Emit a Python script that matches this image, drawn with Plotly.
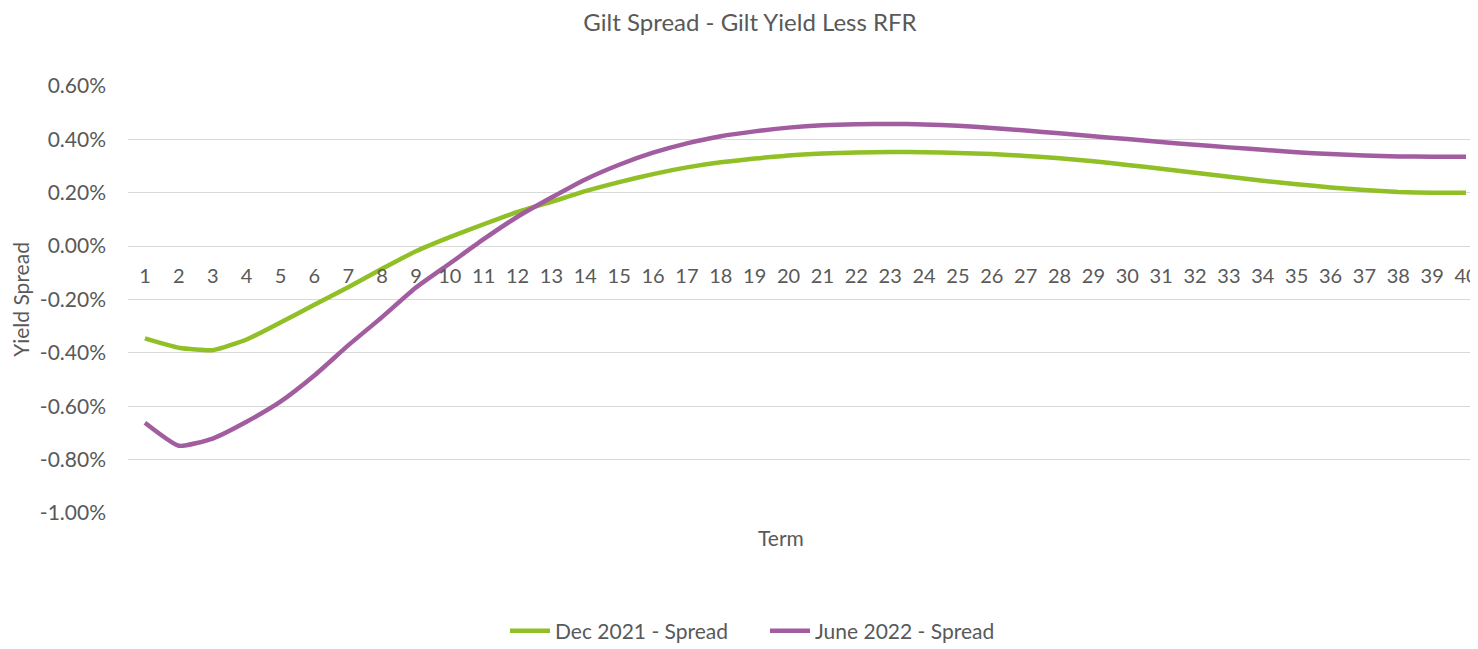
import plotly.graph_objects as go

terms = list(range(1, 41))
dec_2021 = [-0.346, -0.381, -0.390, -0.350, -0.286, -0.220, -0.154, -0.085, -0.019, 0.034,
            0.082, 0.128, 0.166, 0.206, 0.240, 0.270, 0.295, 0.314, 0.328, 0.340,
            0.347, 0.351, 0.353, 0.352, 0.349, 0.345, 0.338, 0.329, 0.318, 0.304,
            0.290, 0.275, 0.260, 0.245, 0.232, 0.220, 0.210, 0.203, 0.200, 0.200]
jun_2022 = [-0.662, -0.748, -0.721, -0.658, -0.583, -0.485, -0.372, -0.266, -0.155, -0.065,
            0.026, 0.110, 0.182, 0.250, 0.305, 0.350, 0.385, 0.412, 0.430, 0.444,
            0.453, 0.457, 0.458, 0.456, 0.451, 0.443, 0.433, 0.423, 0.412, 0.401,
            0.390, 0.380, 0.370, 0.361, 0.352, 0.345, 0.340, 0.336, 0.335, 0.335]
y_ticks = [0.6, 0.4, 0.2, 0.0, -0.2, -0.4, -0.6, -0.8, -1.0]

FONT = "Lato"
TXT = "#595959"
# the page places the figure 8px from the top-left corner
W, H = 1470, 641

fig = go.Figure()
fig.add_trace(go.Scatter(x=terms, y=dec_2021, mode="lines", name="Dec 2021 - Spread",
                         line=dict(color="#90BF26", width=4.5, shape="spline", smoothing=0.5)))
fig.add_trace(go.Scatter(x=terms, y=jun_2022, mode="lines", name="June 2022 - Spread",
                         line=dict(color="#A15DA0", width=4.5, shape="spline", smoothing=0.5)))

fig.update_layout(
    width=W, height=H,
    margin=dict(l=120, r=0, t=78, b=136, autoexpand=False),
    paper_bgcolor="white", plot_bgcolor="white",
    font=dict(family=FONT, color=TXT, size=21),
    title=dict(text="Gilt Spread - Gilt Yield Less RFR", x=742 / W, xanchor="center",
               y=1 - 15 / H, yanchor="middle", font=dict(size=24, color=TXT, family=FONT)),
    xaxis=dict(range=[0.5, 40.354], tickmode="array", tickvals=terms,
               ticktext=[str(t) for t in terms], showgrid=False, zeroline=False,
               showline=False, ticks="", anchor="free", position=0.625,
               ticklabelstandoff=16, ticklabeloverflow="allow", automargin=False,
               tickfont=dict(size=20, color=TXT)),
    yaxis=dict(range=[-1.0, 0.6], tickmode="array", tickvals=y_ticks,
               ticktext=[f"{v:.2f}%" for v in y_ticks], showgrid=True,
               gridcolor="#D9D9D9", gridwidth=1, zeroline=False, showline=False,
               ticks="", tickfont=dict(size=21, color=TXT), ticklabelstandoff=21,
               automargin=False,
               title=dict(text="Yield Spread", font=dict(size=21, color=TXT), standoff=10)),
    legend=dict(orientation="h", x=(505 - 128) / 1350, xanchor="left",
                y=(513 - 631) / 427, yanchor="middle", font=dict(size=21, color=TXT),
                itemwidth=40, tracegroupgap=0, entrywidth=205, entrywidthmode="pixels"),
    showlegend=True,
)
fig.add_annotation(text="Term", x=(781 - 128) / 1350, y=(513 - 537) / 427, xref="paper",
                   yref="paper", xanchor="center", yanchor="middle", showarrow=False,
                   font=dict(size=21, color=TXT, family=FONT))

fig.write_html("out.html")
